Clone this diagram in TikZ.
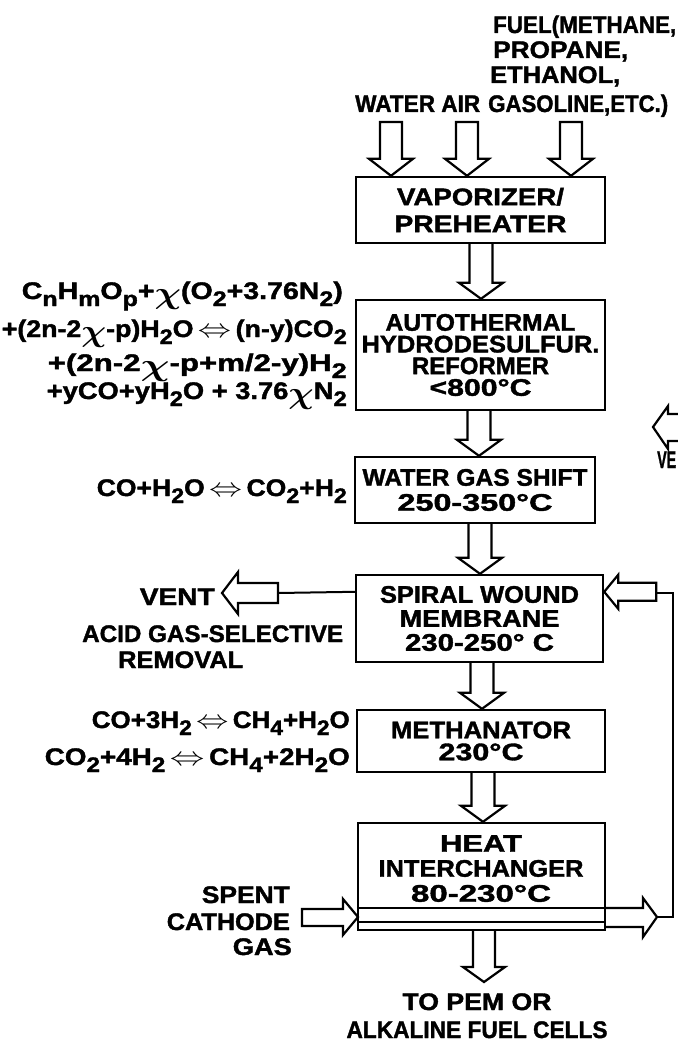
\documentclass[tikz,border=0pt]{standalone}
\usepackage{fontspec}
\setmainfont{Liberation Sans}[BoldFeatures={FakeBold=1.5}]
\usepackage{graphicx}
\usepackage{bm}
\usetikzlibrary{calc}
\newcommand\lo[1]{\raisebox{-7pt}{\fontsize{21}{21}\selectfont #1}}
\newcommand\chx{\raisebox{-4pt}{\scalebox{1.25}{$\bm\chi$}}}
\newcommand\dblarr{\,\scalebox{1.2}[1.05]{$\Leftrightarrow$}\,}
\newcommand\fw[2]{\resizebox{#1pt}{\height}{#2}}
\newcommand\blockdown[3]{%
  \draw[barrow] let \p1=#1, \p2=#2 in
    (#3-11.5,\y1) -- (#3-11.5,\y2+16) -- (#3-22,\y2+16) -- (#3,\y2)
    -- (#3+22,\y2+16) -- (#3+11.5,\y2+16) -- (#3+11.5,\y1);
}
\begin{document}
\begin{tikzpicture}[x=1pt,y=-1pt,
  every node/.style={font=\bfseries\fontsize{24}{25}\selectfont, inner sep=0pt},
  box/.style={draw, line width=2.4pt, align=center},
  barrow/.style={draw, line width=2.2pt, fill=white, line join=miter},
  thinline/.style={draw, line width=2pt},
  eq/.style={anchor=base east, font=\bfseries\fontsize{24}{24}\selectfont},
  lbl/.style={font=\bfseries\fontsize{24}{24}\selectfont}]
\useasboundingbox (0,0) rectangle (677,1043);

% top labels
\node[lbl, anchor=base west] (f1) at (493,33) {\fw{183}{FUEL(METHANE,}};
\node[lbl, anchor=base west] (f2) at (493,58) {\fw{135}{PROPANE,}};
\node[lbl, anchor=base west] (f3) at (490,83) {\fw{130}{ETHANOL,}};
\node[lbl, anchor=base west] (f4) at (488,112) {\fw{180}{GASOLINE,ETC.)}};
\node[lbl, anchor=base west] (wa) at (355,112) {\fw{125}{WATER AIR}};

% boxes
\node[box, minimum width=249pt, minimum height=66pt, font=\bfseries\fontsize{24}{27}\selectfont] (vap) at (480.5,210)
  {\fw{167}{VAPORIZER/}\\\fw{172}{PREHEATER}};
\node[box, minimum width=249pt, minimum height=110pt, font=\bfseries\fontsize{24}{21.7}\selectfont] (auto) at (480.5,355)
  {\fw{190}{AUTOTHERMAL}\\\fw{238}{HYDRODESULFUR.}\\\fw{137}{REFORMER}\\\fw{102}{<800°C}};
\node[box, minimum width=240pt, minimum height=66pt, font=\bfseries\fontsize{24}{25}\selectfont] (wgs) at (475,490)
  {\fw{225}{WATER GAS SHIFT}\\\fw{155}{250-350°C}};
\node[box, minimum width=247pt, minimum height=87pt, font=\bfseries\fontsize{24}{24}\selectfont] (mem) at (479.5,618.5)
  {\fw{199}{SPIRAL WOUND}\\\fw{160}{MEMBRANE}\\\fw{149}{230-250° C}};
\node[box, minimum width=248pt, minimum height=62pt, font=\bfseries\fontsize{24}{22}\selectfont] (meth) at (481,741)
  {\fw{180}{METHANATOR}\\\fw{85}{230°C}};
\node[box, minimum width=247pt, minimum height=107pt] (heat) at (481.5,876.5) {};
\node[lbl, align=center, font=\bfseries\fontsize{24}{25}\selectfont, anchor=north] (heatt) at (481,835)
  {\fw{82}{HEAT}\\\fw{205}{INTERCHANGER}\\\fw{140}{80-230°C}};

% top input arrows
\coordinate (aw) at (391,122);
\coordinate (aa) at (467,122);
\coordinate (af) at (571,122);
\foreach \c in {aw,aa,af}{
  \draw[barrow] let \p1=(\c), \p2=(vap.north) in
    (\x1-11,\y1) -- (\x1-11,\y2+17) -- (\x1-22,\y2+17) -- (\x1,\y2)
    -- (\x1+22,\y2+17) -- (\x1+11,\y2+17) -- (\x1+11,\y1) -- cycle;
}

% down arrows between boxes
\blockdown{(vap.south)}{(auto.north)}{481}
\blockdown{(auto.south)}{(wgs.north)}{479}
\blockdown{(wgs.south)}{(mem.north)}{480}
\blockdown{(mem.south)}{(meth.north)}{482}
\blockdown{(meth.south)}{(heat.north)}{483}
\coordinate (out) at (484,982);
\draw[barrow] let \p1=(heat.south), \p2=(out) in
    (\x2-11,\y1) -- (\x2-11,\y2+15) -- (\x2-21,\y2+15) -- (\x2,\y2)
    -- (\x2+21,\y2+15) -- (\x2+11,\y2+15) -- (\x2+11,\y1);

% equations
\node[eq] (e1) at (343,299) {\fw{321}{C\lo{n}H\lo{m}O\lo{p}+\chx(O\lo{2}+3.76N\lo{2})}};
\node[eq] (e2) at (347,337) {\fw{345}{+(2n-2\chx-p)H\lo{2}O\dblarr(n-y)CO\lo{2}}};
\node[eq] (e3) at (347,371) {\fw{299}{+(2n-2\chx-p+m/2-y)H\lo{2}}};
\node[eq] (e4) at (347,399) {\fw{300}{+yCO+yH\lo{2}O + 3.76\chx N\lo{2}}};
\node[eq] (e5) at (347,496) {\fw{250}{CO+H\lo{2}O\dblarr CO\lo{2}+H\lo{2}}};
\node[eq] (e6) at (350,728) {\fw{258}{CO+3H\lo{2}\dblarr CH\lo{4}+H\lo{2}O}};
\node[eq] (e7) at (350,765) {\fw{305}{CO\lo{2}+4H\lo{2}\dblarr CH\lo{4}+2H\lo{2}O}};

% vent from membrane
\coordinate (memL) at ($(mem.north west)+(0,18)$);
\coordinate (ventT) at (222,593);
\draw[thinline] (memL) -- (278,593);
\draw[barrow] let \p1=(ventT) in
  (\x1+56,\y1+10) -- (\x1+16,\y1+10) -- (\x1+16,\y1+21) -- (\x1,\y1)
  -- (\x1+16,\y1-21) -- (\x1+16,\y1-10) -- (\x1+56,\y1-10) -- cycle;
\node[lbl, anchor=base east] (vent) at (215,605) {\fw{75}{VENT}};
\node[lbl, anchor=base west] (acid) at (82,642) {\fw{261}{ACID GAS-SELECTIVE}};
\node[lbl, anchor=base west] (rem) at (118,668) {\fw{125}{REMOVAL}};

% recycle loop to membrane
\coordinate (memR) at ($(mem.north east)+(0,18)$);
\draw[barrow] let \p1=(memR) in
  (\x1+52,\y1+9) -- (\x1+14,\y1+9) -- (\x1+14,\y1+17) -- (\x1,\y1)
  -- (\x1+14,\y1-17) -- (\x1+14,\y1-9) -- (\x1+52,\y1-9) -- cycle;
\coordinate (hxR) at (657,917);
\draw[thinline] (655,593) -- (673,593) -- (673,917) -- (hxR);

% heat interchanger channel
\draw[line width=1.8pt] (heat.west |- 0,908) -- (heat.east |- 0,908);
\draw[line width=1.8pt] (heat.west |- 0,922) -- (heat.east |- 0,922);
\draw[barrow] let \p1=(heat.east), \p2=(hxR) in
  (\x1,\y2+9) -- (\x2-14,\y2+9) -- (\x2-14,\y2+19) -- (\x2,\y2)
  -- (\x2-14,\y2-20) -- (\x2-14,\y2-10) -- (\x1,\y2-10);
\coordinate (hxL) at (358,917);
\draw[barrow] let \p1=(hxL) in
  (\x1-56,\y1+8) -- (\x1-15,\y1+8) -- (\x1-15,\y1+18) -- (\x1,\y1)
  -- (\x1-15,\y1-18) -- (\x1-15,\y1-9) -- (\x1-56,\y1-9) -- cycle;
\node[lbl, anchor=base east] (sp1) at (290,903) {\fw{88}{SPENT}};
\node[lbl, anchor=base east] (sp2) at (290,930) {\fw{123}{CATHODE}};
\node[lbl, anchor=base east] (sp3) at (292,955) {\fw{59}{GAS}};

% outputs
\node[lbl, anchor=base] (to1) at (477,1010) {\fw{149}{TO PEM OR}};
\node[lbl, anchor=base] (to2) at (477,1038) {\fw{261}{ALKALINE FUEL CELLS}};

% cut-off neighbour at right edge
\coordinate (vtip) at (653,427);
\draw[barrow] let \p1=(vtip) in
  (\x1+45,\y1-14) -- (\x1+15,\y1-14) -- (\x1+15,\y1-22) -- (\x1,\y1)
  -- (\x1+15,\y1+21) -- (\x1+15,\y1+13) -- (\x1+45,\y1+13);
\node[lbl, anchor=base west] (ve) at (657,468) {\fw{19}{VE}};
\end{tikzpicture}
\end{document}
